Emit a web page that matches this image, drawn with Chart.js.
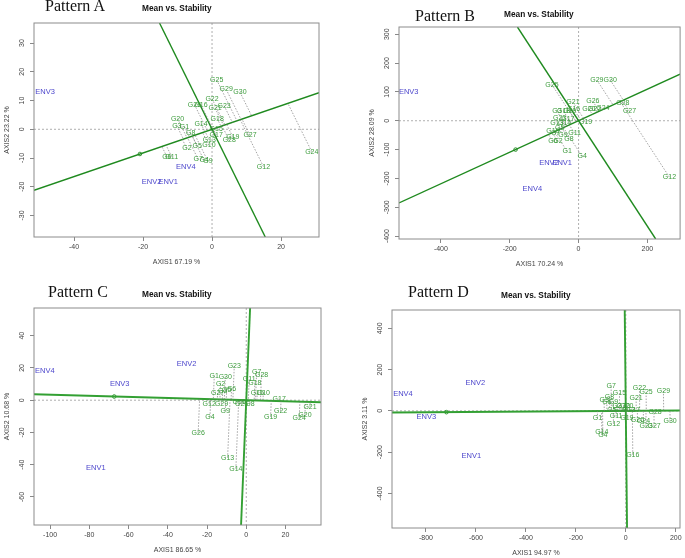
<!DOCTYPE html>
<html>
<head>
<meta charset="utf-8">
<script src="https://cdn.jsdelivr.net/npm/chart.js@4.4.1/dist/chart.umd.min.js"></script>
<style>
body { margin: 0; background: #fff; }
#wrap { position: relative; width: 685px; height: 558px; overflow: hidden; }
canvas { position: absolute; }
.pat { position: absolute; font-family: "Liberation Serif", "DejaVu Serif", serif; font-size: 16px; line-height: 16px; color: #111; white-space: nowrap; z-index: 2; }
.mvs { position: absolute; font-family: "Liberation Sans", Arial, sans-serif; font-weight: bold; font-size: 8.3px; line-height: 8.3px; color: #111; white-space: nowrap; z-index: 2; }
</style>
</head>
<body>
<div id="wrap">
  <div class="pat" style="left:45px;top:-2px">Pattern A</div>
  <div class="mvs" style="left:142px;top:4px">Mean vs. Stability</div>
  <div class="pat" style="left:415px;top:8px">Pattern B</div>
  <div class="mvs" style="left:504px;top:10px">Mean vs. Stability</div>
  <div class="pat" style="left:48px;top:284px">Pattern C</div>
  <div class="mvs" style="left:142px;top:290px">Mean vs. Stability</div>
  <div class="pat" style="left:408px;top:284px">Pattern D</div>
  <div class="mvs" style="left:501px;top:291px">Mean vs. Stability</div>
  <canvas id="cA" width="335" height="275" style="left:0;top:0"></canvas>
  <canvas id="cB" width="325" height="275" style="left:360px;top:0"></canvas>
  <canvas id="cC" width="335" height="275" style="left:0;top:283px"></canvas>
  <canvas id="cD" width="335" height="275" style="left:350px;top:283px"></canvas>
</div>
<script>
const genotypes = ['G1','G2','G3','G4','G5','G6','G7','G8','G9','G10',
  'G11','G12','G13','G14','G15','G16','G17','G18','G19','G20',
  'G21','G22','G23','G24','G25','G26','G27','G28','G29','G30'];
const envs = ['ENV1', 'ENV2', 'ENV3', 'ENV4'];

// Pattern A
const aGenoX = [-8.0, -7.3, -10.2, -2.3, -4.3, -13.1, -4.0, -6.2, -1.2, -0.9,
  -11.7, 14.9, -0.8, -3.2, 1.2, -3.2, 1.2, 1.5, 6.0, -10.0,
  0.9, 0.0, 3.5, 28.9, 1.35, -5.1, 11.0, 5.0, 4.1, 8.1];
const aGenoY = [0.9, -6.7, 1.2, -10.8, -5.8, -9.5, -10.5, -1.4, -11.1, -5.6,
  -9.5, -13.0, -3.7, 1.9, 0.1, 8.5, -2.0, 3.7, -2.6, 3.7,
  7.3, 10.6, 8.2, -7.8, 17.2, 8.6, -2.1, -3.9, 13.9, 12.9];
const aEnvX = [-12.7, -17.5, -48.4, -7.6];
const aEnvY = [-18.2, -18.2, 12.9, -13.0];
const aAvg = [-20.9, -8.6];
const aXTicks = [-40, -20, 0, 20];
const aYTicks = [-30, -20, -10, 0, 10, 20, 30];
const aRange = [-51.6, 31, -37.5, 37];
const aTitles = ['AXIS1 67.19 %', 'AXIS2 23.22 %'];

// Pattern B
const bGenoX = [-32.9, -60, -62.9, 10.6, -55, -74.5, -66.8, -28, -45.5, -26,
  -11.6, 264, -62.9, -40.6, -74.5, -14.5, -31, -43.5, 20.3, 30,
  -16.4, 46.4, -55, 70.6, -77.4, 41.6, 148, 128.7, 53.2, 92];
const bGenoY = [-106.5, -71.8, 32.4, -123.8, -25.5, -71.8, -42.8, -63.7, -48.6, 32.4,
  -42.8, -195.6, -6.9, -6.9, -37, 40.5, 6.9, 32.4, -5.8, 40.5,
  64.8, 41.7, 9.3, 42.8, 125, 67, 32.4, 61.3, 141, 141];
const bEnvX = [-47.4, -86, -493.5, -134.5];
const bEnvY = [-144.7, -144.7, 100.7, -237];
const bAvg = [-183, -100];
const bXTicks = [-400, -200, 0, 200];
const bYTicks = [-400, -300, -200, -100, 0, 100, 200, 300];
const bRange = [-521.7, 295, -410, 325];
const bTitles = ['AXIS1 70.24 %', 'AXIS2 28.09 %'];

// Pattern C
const cGenoX = [-16.3, -13.1, -12, -18.5, -10, -7.5, 5.3, 1.9, -10.7, 8.7,
  1.5, -18.9, -9.5, -5.3, 5.6, -3.6, 16.8, 4.4, 12.4, 29.9,
  32.5, 17.5, -6.1, 27, -2.4, -24.5, -14.6, 7.8, -12.6, -10.7];
const cGenoY = [15.1, 10.1, 5.4, -10.3, 6.2, 7, 17.7, -2.1, -6.6, 4.7,
  13, -2.1, -35.7, -42.5, 4.7, -1.2, 1.0, 10.9, -10.3, -8.9,
  -4.1, -6.8, 21.3, -10.9, -2.1, -20.2, 4.5, 15.9, -2.3, 14.4];
const cEnvX = [-76.7, -30.4, -64.5, -102.7];
const cEnvY = [-41.9, 22.3, 9.9, 18];
const cAvg = [-67.3, 2.3];
const cXTicks = [-100, -80, -60, -40, -20, 0, 20];
const cYTicks = [-60, -40, -20, 0, 20, 40];
const cRange = [-108.2, 38.1, -77.4, 57.2];
const cTitles = ['AXIS1 86.65 %', 'AXIS2 10.68 %'];

// Pattern D
const dGenoX = [-113.3, -36, -86.7, -92, -56, -76, -58.7, -65.3, -49.3, -9.3,
  -38.7, -49.3, 10.7, -96, -25.3, 28, 30.7, -22.7, 4, 4,
  41.3, 54.7, 81.3, 70.7, 81.3, 46.7, 113.3, 117.3, 150.7, 177.3];
const dGenoY = [-35.5, 24, 50, -116, 4.8, 45, 117.7, 66, 45, 24,
  -27.4, -62.9, 4.8, -104.8, 85.5, -213, 4.8, 4.8, -33.9, 24,
  59.7, 109.7, -75.8, -51.6, 88.7, -46.8, -75.8, -4.8, 96.8, -51.6];
const dEnvX = [-618.7, -602.7, -798.7, -892];
const dEnvY = [-216, 133.9, -27.4, 80.6];
const dAvg = [-718, -6.3];
const dXTicks = [-800, -600, -400, -200, 0, 200];
const dYTicks = [-400, -200, 0, 200, 400];
const dRange = [-936, 217, -567.5, 488.6];
const dTitles = ['AXIS1 94.97 %', 'AXIS2 3.11 %'];

const LINE_GREEN = '#1f8a1f';
const TEXT_GREEN = '#3c9c3c';
const ENV_BLUE = '#4c46cc';
const SANS = '"Liberation Sans", Arial, sans-serif';

function biplotPlugin(d) {
  return {
    id: 'biplot',
    beforeDatasetsDraw(chart) {
      const { ctx, chartArea: a, scales: { x, y } } = chart;
      const x0 = x.getPixelForValue(0), y0 = y.getPixelForValue(0);
      ctx.save();
      ctx.strokeStyle = '#9a9a9a';
      ctx.lineWidth = 0.8;
      ctx.setLineDash([2, 2]);
      ctx.beginPath();
      ctx.moveTo(x0, a.top); ctx.lineTo(x0, a.bottom);
      ctx.moveTo(a.left, y0); ctx.lineTo(a.right, y0);
      ctx.stroke();
      ctx.restore();
    },
    afterDatasetsDraw(chart) {
      const { ctx, chartArea: a, scales: { x, y } } = chart;
      ctx.save();
      ctx.beginPath();
      ctx.rect(a.left, a.top, a.right - a.left, a.bottom - a.top);
      ctx.clip();
      ctx.textAlign = 'center';
      ctx.textBaseline = 'middle';
      ctx.font = '7px ' + SANS;
      ctx.fillStyle = TEXT_GREEN;
      genotypes.forEach((g, i) => {
        ctx.fillText(g, x.getPixelForValue(d.gx[i]), y.getPixelForValue(d.gy[i]));
      });
      ctx.font = '7.5px ' + SANS;
      ctx.fillStyle = ENV_BLUE;
      envs.forEach((e, i) => {
        ctx.fillText(e, x.getPixelForValue(d.ex[i]), y.getPixelForValue(d.ey[i]));
      });
      ctx.restore();

      // frame
      ctx.save();
      ctx.strokeStyle = '#8c8c8c';
      ctx.lineWidth = 1;
      ctx.strokeRect(a.left, a.top, a.right - a.left, a.bottom - a.top);

      // axis text
      ctx.fillStyle = '#444';
      ctx.font = '7px ' + SANS;
      ctx.textAlign = 'center';
      ctx.textBaseline = 'middle';
      d.xt.forEach(v => ctx.fillText(String(v), x.getPixelForValue(v), a.bottom + 10.5));
      ctx.fillText(d.titles[0], (a.left + a.right) / 2, a.bottom + 25);
      d.yt.forEach(v => {
        ctx.save();
        ctx.translate(a.left - 12, y.getPixelForValue(v));
        ctx.rotate(-Math.PI / 2);
        ctx.fillText(String(v), 0, 0);
        ctx.restore();
      });
      ctx.translate(a.left - 27, (a.top + a.bottom) / 2);
      ctx.rotate(-Math.PI / 2);
      ctx.fillText(d.titles[1], 0, 0);
      ctx.restore();
    }
  };
}

function axis(min, max, ticks, isY, size) {
  return {
    type: 'linear', min: min, max: max,
    afterBuildTicks: s => { s.ticks = ticks.map(v => ({ value: v })); },
    afterFit: s => { if (isY) s.width = size; else s.height = size; },
    grid: { drawOnChartArea: false, drawTicks: true, tickLength: 4, tickColor: '#888', color: '#888' },
    border: { display: false },
    ticks: { display: false }
  };
}

function buildChart(id, d, box) {
  const s = d.avg[1] / d.avg[0];
  const [xmin, xmax, ymin, ymax] = d.range;
  const datasets = genotypes.map((g, i) => {
    const t = (d.gx[i] + s * d.gy[i]) / (1 + s * s);
    return {
      data: [{ x: d.gx[i], y: d.gy[i] }, { x: t, y: s * t }],
      showLine: true, borderColor: '#7d7d7d', borderWidth: 0.7,
      borderDash: [1.5, 1.5], pointRadius: 0
    };
  });
  datasets.push({
    data: [{ x: xmin, y: s * xmin }, { x: xmax, y: s * xmax }],
    showLine: true, borderColor: box.lineColor, borderWidth: box.lineWidth, pointRadius: 0
  });
  datasets.push({
    data: [{ x: -s * ymin, y: ymin }, { x: -s * ymax, y: ymax }],
    showLine: true, borderColor: box.lineColor, borderWidth: box.lineWidth, pointRadius: 0
  });
  datasets.push({
    data: [{ x: d.avg[0], y: d.avg[1] }],
    pointRadius: 1.8, pointBorderColor: LINE_GREEN, pointBackgroundColor: 'rgba(0,0,0,0)',
    pointBorderWidth: 0.9
  });
  return new Chart(document.getElementById(id), {
    type: 'scatter',
    data: { datasets: datasets },
    options: {
      responsive: false,
      animation: false,
      layout: { padding: box.pad },
      plugins: { legend: { display: false }, tooltip: { enabled: false } },
      scales: {
        x: axis(xmin, xmax, d.xt, false, box.xh),
        y: axis(ymin, ymax, d.yt, true, box.yw)
      }
    },
    plugins: [biplotPlugin(d)]
  });
}

buildChart('cA', { gx: aGenoX, gy: aGenoY, ex: aEnvX, ey: aEnvY, avg: aAvg, xt: aXTicks, yt: aYTicks, range: aRange, titles: aTitles },
  { pad: { left: 0, right: 16, top: 23, bottom: 8 }, yw: 34, xh: 30, lineColor: LINE_GREEN, lineWidth: 1.4 });
buildChart('cB', { gx: bGenoX, gy: bGenoY, ex: bEnvX, ey: bEnvY, avg: bAvg, xt: bXTicks, yt: bYTicks, range: bRange, titles: bTitles },
  { pad: { left: 0, right: 4, top: 27, bottom: 6 }, yw: 39, xh: 30, lineColor: LINE_GREEN, lineWidth: 1.4 });
buildChart('cC', { gx: cGenoX, gy: cGenoY, ex: cEnvX, ey: cEnvY, avg: cAvg, xt: cXTicks, yt: cYTicks, range: cRange, titles: cTitles },
  { pad: { left: 0, right: 14, top: 25, bottom: 3 }, yw: 34, xh: 30, lineColor: '#33a033', lineWidth: 1.9 });
buildChart('cD', { gx: dGenoX, gy: dGenoY, ex: dEnvX, ey: dEnvY, avg: dAvg, xt: dXTicks, yt: dYTicks, range: dRange, titles: dTitles },
  { pad: { left: 0, right: 5, top: 27, bottom: 3 }, yw: 42, xh: 27, lineColor: '#33a033', lineWidth: 1.9 });
</script>
</body>
</html>
